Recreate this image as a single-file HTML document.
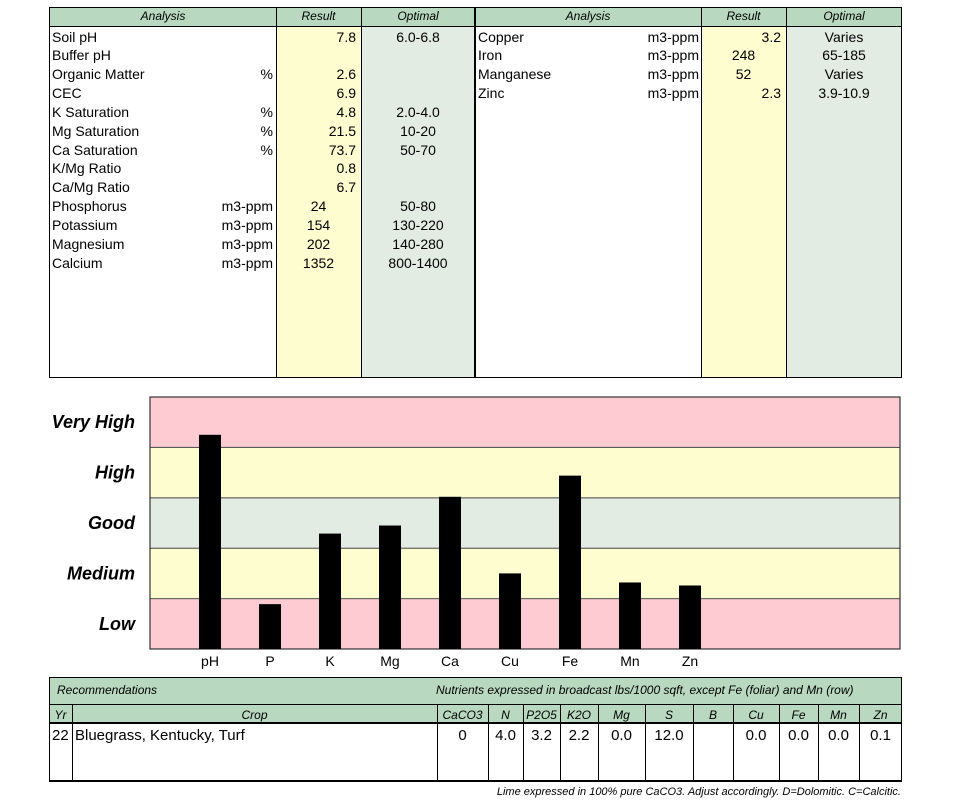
<!DOCTYPE html>
<html><head><meta charset="utf-8"><style>
body{margin:0;width:963px;height:800px;background:#fff;position:relative;overflow:hidden;font-family:"Liberation Sans",Arial,sans-serif;}
.a{position:absolute;box-sizing:border-box;}
.t{position:absolute;font-size:14px;line-height:19px;white-space:nowrap;color:#000;}
.h{position:absolute;font-size:12px;font-style:italic;line-height:19px;text-align:center;}
.bt{position:absolute;font-family:"Liberation Sans Narrow","Liberation Sans",sans-serif;}
</style></head><body>
<!-- top table -->
<div class="a" style="left:49px;top:7px;width:853px;height:371px;border:1px solid #000;"></div>
<div class="a" style="left:50px;top:8px;width:851px;height:19px;background:#b8d8bf;border-bottom:1px solid #000;"></div>
<div class="a" style="left:276px;top:27px;width:85px;height:350px;background:#fefdd0;"></div>
<div class="a" style="left:361px;top:27px;width:114px;height:350px;background:#e3ece3;"></div>
<div class="a" style="left:701px;top:27px;width:85px;height:350px;background:#fefdd0;"></div>
<div class="a" style="left:786px;top:27px;width:115px;height:350px;background:#e3ece3;"></div>
<div class="a" style="left:276px;top:8px;width:1px;height:369px;background:#000"></div>
<div class="a" style="left:361px;top:8px;width:1px;height:369px;background:#000"></div>
<div class="a" style="left:474px;top:8px;width:2px;height:369px;background:#000"></div>
<div class="a" style="left:701px;top:8px;width:1px;height:369px;background:#000"></div>
<div class="a" style="left:786px;top:8px;width:1px;height:369px;background:#000"></div>
<div class="h" style="left:50px;top:7px;width:226px">Analysis</div>
<div class="h" style="left:276px;top:7px;width:85px">Result</div>
<div class="h" style="left:361px;top:7px;width:114px">Optimal</div>
<div class="h" style="left:475px;top:7px;width:226px">Analysis</div>
<div class="h" style="left:701px;top:7px;width:85px">Result</div>
<div class="h" style="left:786px;top:7px;width:116px">Optimal</div>
<div id="rows"></div>

<!-- chart -->
<svg class="a" id="chart" style="left:0;top:390px" width="963" height="285"></svg>

<!-- bottom table -->
<div class="a" style="left:49px;top:677px;width:853px;height:105px;border:2px solid #000;border-width:1px 1px 2px 1px;"></div>
<div class="a" style="left:50px;top:678px;width:851px;height:27px;background:#b8d8bf;border-bottom:1px solid #000;"></div>
<div class="a" style="left:50px;top:705px;width:851px;height:19px;background:#b8d8bf;border-bottom:2px solid #000;"></div>
<div class="bt" style="left:57px;top:683px;font-size:12px;font-style:italic;">Recommendations</div>
<div class="bt" style="left:436px;top:683px;font-size:12px;font-style:italic;">Nutrients expressed in broadcast lbs/1000 sqft, except Fe (foliar) and Mn (row)</div>
<div id="rec"></div>
<div class="bt" style="right:62px;top:786px;font-size:11px;font-style:italic;">Lime expressed in 100% pure CaCO3.  Adjust accordingly.  D=Dolomitic.  C=Calcitic.</div>

<script>
// top table data
const leftNames=["Soil pH","Buffer pH","Organic Matter","CEC","K Saturation","Mg Saturation","Ca Saturation","K/Mg Ratio","Ca/Mg Ratio","Phosphorus","Potassium","Magnesium","Calcium"];
const leftUnits=["","","%","","%","%","%","","","m3-ppm","m3-ppm","m3-ppm","m3-ppm"];
const leftResults=["7.8","","2.6","6.9","4.8","21.5","73.7","0.8","6.7","24","154","202","1352"];
const leftOptimal=["6.0-6.8","","","","2.0-4.0","10-20","50-70","","","50-80","130-220","140-280","800-1400"];
const rightNames=["Copper","Iron","Manganese","Zinc"];
const rightUnits=["m3-ppm","m3-ppm","m3-ppm","m3-ppm"];
const rightResults=["3.2","248","52","2.3"];
const rightOptimal=["Varies","65-185","Varies","3.9-10.9"];
const rows=document.getElementById('rows');
function txt(parent,s,x,y,align,w,name){const d=document.createElement('div');d.className='t';d.textContent=s;


d.style.top=y+'px';if(align==='r'){d.style.left=(x-w)+'px';d.style.width=w+'px';d.style.textAlign='right';}else if(align==='c'){d.style.left=x+'px';d.style.width=w+'px';d.style.textAlign='center';}else d.style.left=x+'px';parent.appendChild(d);}
function isNum(s){return /^\d+$/.test(s);}
leftNames.forEach((n,i)=>{const y=27.5+i*18.85;
 txt(rows,n,52,y,'l',0,'analysis-name');
 if(leftUnits[i])txt(rows,leftUnits[i],273,y,'r',80,'analysis-unit');
 if(leftResults[i]){ if(isNum(leftResults[i])) txt(rows,leftResults[i],276,y,'c',85,'analysis-result'); else txt(rows,leftResults[i],356,y,'r',80,'analysis-result');}
 if(leftOptimal[i])txt(rows,leftOptimal[i],361,y,'c',114,'analysis-optimal');
});
rightNames.forEach((n,i)=>{const y=27.5+i*18.85;
 txt(rows,n,478,y,'l',0,'analysis-name');
 txt(rows,rightUnits[i],699,y,'r',80,'analysis-unit');
 if(isNum(rightResults[i])) txt(rows,rightResults[i],701,y,'c',85,'analysis-result'); else txt(rows,rightResults[i],781,y,'r',80,'analysis-result');
 txt(rows,rightOptimal[i],786,y,'c',116,'analysis-optimal');
});

// chart data
const categories=["pH","P","K","Mg","Ca","Cu","Fe","Mn","Zn"];
const levels=[4.25,0.89,2.29,2.45,3.02,1.50,3.44,1.32,1.26];
const bandLabels=["Low","Medium","Good","High","Very High"];
const NS='http://www.w3.org/2000/svg';
const svg=document.getElementById('chart');
const X0=150,X1=900,YTOP=7,YBOT=259;
const yScale=v=>YBOT-(v/5)*(YBOT-YTOP);
const xScale=i=>210+i*60;
const bandColors=["#fecbd2","#fefdd0","#e3ece3","#fefdd0","#fecbd2"];
function el(tag,attrs,name){const e=document.createElementNS(NS,tag);for(const k in attrs)e.setAttribute(k,attrs[k]);


svg.appendChild(e);return e;}
bandLabels.forEach((lab,i)=>{
 el('rect',{x:X0,y:yScale(i+1),width:X1-X0,height:yScale(i)-yScale(i+1),fill:bandColors[i],stroke:'#555','stroke-width':1},'band-'+lab.toLowerCase().replace(' ','-'));
 const t=el('text',{x:135,y:(yScale(i)+yScale(i+1))/2+6,'text-anchor':'end','font-size':18,'font-weight':'bold','font-style':'italic','font-family':'Liberation Sans, sans-serif'},'band-label');
 t.textContent=lab;
});
el('rect',{x:X0,y:YTOP,width:X1-X0,height:YBOT-YTOP,fill:'none',stroke:'#333','stroke-width':1.2},'chart-frame');
categories.forEach((c,i)=>{
 el('rect',{x:xScale(i)-11,y:yScale(levels[i]),width:22,height:YBOT-yScale(levels[i]),fill:'#000'},'bar-'+c.toLowerCase());
 const t=el('text',{x:xScale(i),y:276,'text-anchor':'middle','font-size':14,'font-family':'Liberation Sans, sans-serif'},'x-label');
 t.textContent=c;
});

// recommendations
const recCols=[[49,72,"Yr"],[72,437,"Crop"],[437,488,"CaCO3"],[488,523,"N"],[523,560,"P2O5"],[560,598,"K2O"],[598,645,"Mg"],[645,693,"S"],[693,733,"B"],[733,779,"Cu"],[779,818,"Fe"],[818,859,"Mn"],[859,902,"Zn"]];
const recValues=["22","Bluegrass, Kentucky, Turf","0","4.0","3.2","2.2","0.0","12.0","","0.0","0.0","0.0","0.1"];
const rec=document.getElementById('rec');
recCols.forEach((c,i)=>{
 if(i>0){const l=document.createElement('div');l.className='a';l.style.cssText=`left:${c[0]}px;top:705px;width:1px;height:76px;background:#000`;
 
 rec.appendChild(l);}
 const h=document.createElement('div');h.className='bt';h.textContent=c[2];
 h.style.cssText=`left:${c[0]}px;width:${c[1]-c[0]}px;top:708px;font-size:12px;font-style:italic;text-align:center`;
 
 rec.appendChild(h);
 const v=document.createElement('div');v.className='bt';v.textContent=recValues[i];
 v.style.cssText=`left:${c[0]+(i<2?3:0)}px;width:${c[1]-c[0]}px;top:727px;font-size:15px;text-align:${i<2?'left':'center'}`;
 
 rec.appendChild(v);
});
</script>
</body></html>
